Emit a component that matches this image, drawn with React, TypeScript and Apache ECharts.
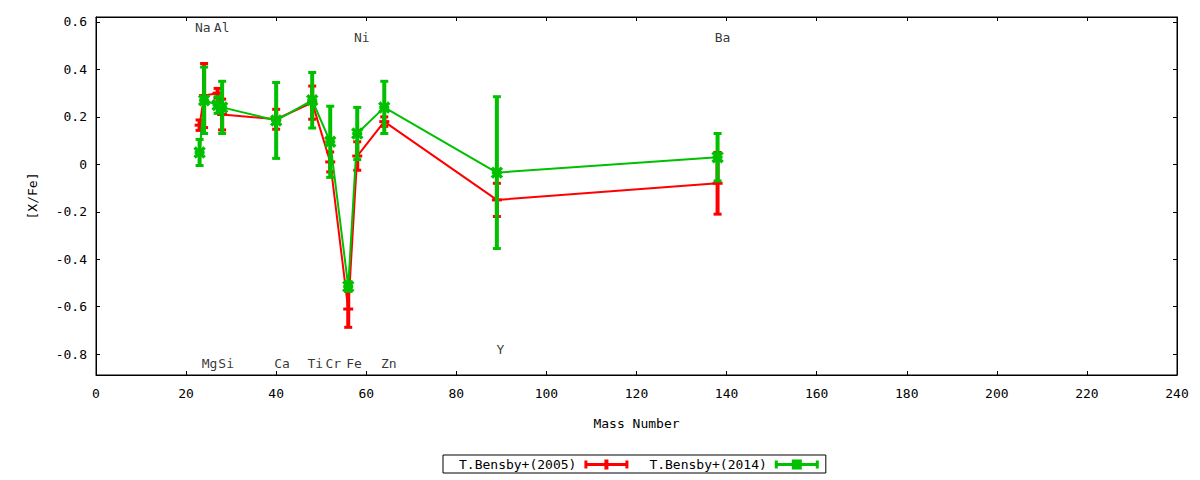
import React, { useEffect, useRef } from "react";
import * as echarts from "echarts";

const FONT = '"DejaVu Sans Mono", monospace';
const RED = "#ff0000";
const GREEN = "#00c000";

// Data (mass number, [X/Fe], error)
const elements = ["Na", "Mg", "Al", "Si", "Ca", "Ti", "Cr", "Fe", "Ni", "Zn", "Y", "Ba"];
const massNumbers = [23, 24, 27, 28, 40, 48, 52, 56, 58, 64, 89, 138];
const bensby2005 = [0.165, 0.29, 0.3, 0.21, 0.19, 0.26, 0.01, -0.61, 0.035, 0.18, -0.15, -0.08];
const bensby2005Err = [0.022, 0.135, 0.02, 0.065, 0.042, 0.07, 0.042, 0.077, 0.06, 0.02, 0.07, 0.13];
const bensby2014 = [0.05, 0.27, 0.25, 0.24, 0.185, 0.27, 0.095, -0.515, 0.13, 0.24, -0.035, 0.03];
const bensby2014Err = [0.055, 0.14, 0.035, 0.11, 0.16, 0.117, 0.15, 0.02, 0.11, 0.11, 0.32, 0.1];

// Element labels drawn on the plot
const labelNames = ["Na", "Al", "Ni", "Ba", "Mg", "Si", "Ca", "Ti", "Cr", "Fe", "Zn", "Y"];
const labelX = [23.7, 27.9, 59.0, 139.1, 25.2, 28.9, 41.3, 48.7, 52.7, 57.3, 65.0, 89.8];
const labelY = [0.575, 0.575, 0.534, 0.534, -0.839, -0.839, -0.839, -0.839, -0.839, -0.839, -0.839, -0.779];

// Axis ticks
const yTicks = [-0.8, -0.6, -0.4, -0.2, 0, 0.2, 0.4, 0.6];
const Y_MIN = -0.888;
const Y_MAX = 0.621;
const X_MIN = 0;
const X_MAX = 240;
const X_STEP = 20;

const SERIES_2005 = "T.Bensby+(2005)";
const SERIES_2014 = "T.Bensby+(2014)";

const redIcon =
  "path://M0,1h3v8h-3z M41,1h3v8h-3z M3,3.5h38v3h-38z M20,0h4v10h-4z";
const greenIcon =
  "path://M0,1h3v8h-3z M41,1h3v8h-3z M3,3.5h38v3h-38z M17,0h10v10h-10z";

function makeErrRender(color: string, markerKind: "plus" | "cross") {
  return (_params: any, api: any) => {
    const x = api.value(0);
    const y = api.value(1);
    const e = api.value(2);
    const top = api.coord([x, y + e]);
    const bot = api.coord([x, y - e]);
    const c = api.coord([x, y]);
    const children: any[] = [
      {
        type: "line",
        shape: { x1: top[0], y1: top[1], x2: bot[0], y2: bot[1] },
        style: { stroke: color, lineWidth: 4 },
      },
      {
        type: "line",
        shape: { x1: top[0] - 4, y1: top[1], x2: top[0] + 4, y2: top[1] },
        style: { stroke: color, lineWidth: 3 },
      },
      {
        type: "line",
        shape: { x1: bot[0] - 4, y1: bot[1], x2: bot[0] + 4, y2: bot[1] },
        style: { stroke: color, lineWidth: 3 },
      },
    ];
    if (markerKind === "plus") {
      children.push({
        type: "line",
        shape: { x1: c[0] - 5, y1: c[1], x2: c[0] + 5, y2: c[1] },
        style: { stroke: color, lineWidth: 3 },
      });
    } else {
      children.push(
        {
          type: "line",
          shape: { x1: c[0] - 5, y1: c[1] - 5, x2: c[0] + 5, y2: c[1] + 5 },
          style: { stroke: color, lineWidth: 3.5 },
        },
        {
          type: "line",
          shape: { x1: c[0] - 5, y1: c[1] + 5, x2: c[0] + 5, y2: c[1] - 5 },
          style: { stroke: color, lineWidth: 3.5 },
        },
        {
          type: "line",
          shape: { x1: c[0] - 5, y1: c[1], x2: c[0] + 5, y2: c[1] },
          style: { stroke: color, lineWidth: 3 },
        }
      );
    }
    return { type: "group", children };
  };
}

export default function App() {
  const ref = useRef<HTMLDivElement>(null);

  useEffect(() => {
    if (!ref.current) return;
    const chart = echarts.init(ref.current, null, { renderer: "svg" });

    const textStyle = { fontFamily: FONT, fontSize: 13, color: "#000" };

    const data2005 = massNumbers.map((m, i) => [m, bensby2005[i], bensby2005Err[i]]);
    const data2014 = massNumbers.map((m, i) => [m, bensby2014[i], bensby2014Err[i]]);
    const labelData = labelNames.map((n, i) => ({ name: n, value: [labelX[i], labelY[i]] }));

    const option: any = {
      animation: false,
      backgroundColor: "#fff",
      textStyle: { fontFamily: FONT },
      grid: {
        left: 96,
        right: 23,
        top: 17,
        bottom: 105,
        show: true,
        borderColor: "#000",
        borderWidth: 1,
        backgroundColor: "transparent",
        containLabel: false,
        outerBoundsMode: "none",
      },
      legend: {
        left: 443,
        top: 455,
        orient: "horizontal",
        align: "right",
        itemWidth: 44,
        itemHeight: 10,
        itemGap: 21,
        padding: [3, 7, 2, 16],
        borderColor: "#000",
        borderWidth: 1,
        textStyle: { ...textStyle, padding: [0, 3, 0, 0] },
        itemStyle: { borderWidth: 0 },
        data: [
          { name: SERIES_2005, icon: redIcon },
          { name: SERIES_2014, icon: greenIcon },
        ],
        selectedMode: false,
      },
      xAxis: [
        {
          type: "value",
          min: X_MIN,
          max: X_MAX,
          interval: X_STEP,
          position: "bottom",
          name: "Mass Number",
          nameLocation: "middle",
          nameGap: 42,
          nameTextStyle: textStyle,
          axisLine: { show: true, onZero: false, lineStyle: { color: "#000", width: 1 } },
          axisTick: { show: true, inside: true, length: 4, lineStyle: { color: "#000" } },
          axisLabel: { ...textStyle, margin: 12 },
          splitLine: { show: false },
        },
        {
          type: "value",
          min: X_MIN,
          max: X_MAX,
          interval: X_STEP,
          position: "top",
          axisLine: { show: true, onZero: false, lineStyle: { color: "#000", width: 1 } },
          axisTick: { show: true, inside: true, length: 4, lineStyle: { color: "#000" } },
          axisLabel: { show: false },
          splitLine: { show: false },
        },
      ],
      yAxis: [
        {
          type: "value",
          min: Y_MIN,
          max: Y_MAX,
          position: "left",
          name: "[X/Fe]",
          nameLocation: "middle",
          nameGap: 57,
          nameTextStyle: textStyle,
          axisLine: { show: true, onZero: false, lineStyle: { color: "#000", width: 1 } },
          axisTick: {
            show: true,
            inside: true,
            length: 4,
            lineStyle: { color: "#000" },
            customValues: yTicks,
          },
          axisLabel: {
            ...textStyle,
            margin: 9,
            customValues: yTicks,
            formatter: (v: number) => String(Math.round(v * 10) / 10),
          },
          splitLine: { show: false },
        },
        {
          type: "value",
          min: Y_MIN,
          max: Y_MAX,
          position: "right",
          axisLine: { show: true, onZero: false, lineStyle: { color: "#000", width: 1 } },
          axisTick: {
            show: true,
            inside: true,
            length: 4,
            lineStyle: { color: "#000" },
            customValues: yTicks,
          },
          axisLabel: { show: false, customValues: yTicks },
          splitLine: { show: false },
        },
      ],
      series: [
        {
          name: SERIES_2005,
          type: "custom",
          xAxisIndex: 0,
          yAxisIndex: 0,
          itemStyle: { color: RED },
          renderItem: makeErrRender(RED, "plus"),
          encode: { x: 0, y: 1 },
          data: data2005,
          z: 2,
          silent: true,
        },
        {
          name: "line2005",
          type: "line",
          xAxisIndex: 0,
          yAxisIndex: 0,
          data: data2005.map((d) => [d[0], d[1]]),
          showSymbol: false,
          symbol: "none",
          lineStyle: { color: RED, width: 2 },
          itemStyle: { color: RED },
          z: 2,
          silent: true,
        },
        {
          name: SERIES_2014,
          type: "custom",
          xAxisIndex: 0,
          yAxisIndex: 0,
          itemStyle: { color: GREEN },
          renderItem: makeErrRender(GREEN, "cross"),
          encode: { x: 0, y: 1 },
          data: data2014,
          z: 3,
          silent: true,
        },
        {
          name: "line2014",
          type: "line",
          xAxisIndex: 0,
          yAxisIndex: 0,
          data: data2014.map((d) => [d[0], d[1]]),
          showSymbol: false,
          symbol: "none",
          lineStyle: { color: GREEN, width: 2 },
          itemStyle: { color: GREEN },
          z: 3,
          silent: true,
        },
        {
          name: "labels",
          type: "scatter",
          xAxisIndex: 0,
          yAxisIndex: 0,
          symbolSize: 0,
          itemStyle: { color: "rgba(0,0,0,0)" },
          data: labelData,
          label: {
            show: true,
            position: "inside",
            formatter: "{b}",
            ...textStyle,
          },
          labelLayout: { hideOverlap: false },
          z: 5,
          silent: true,
        },
      ],
    };

    chart.setOption(option);
    return () => chart.dispose();
  }, []);

  return (
    <div
      ref={ref}
      style={{ position: "fixed", left: 0, top: 0, width: 1200, height: 480, background: "#fff" }}
    />
  );
}
